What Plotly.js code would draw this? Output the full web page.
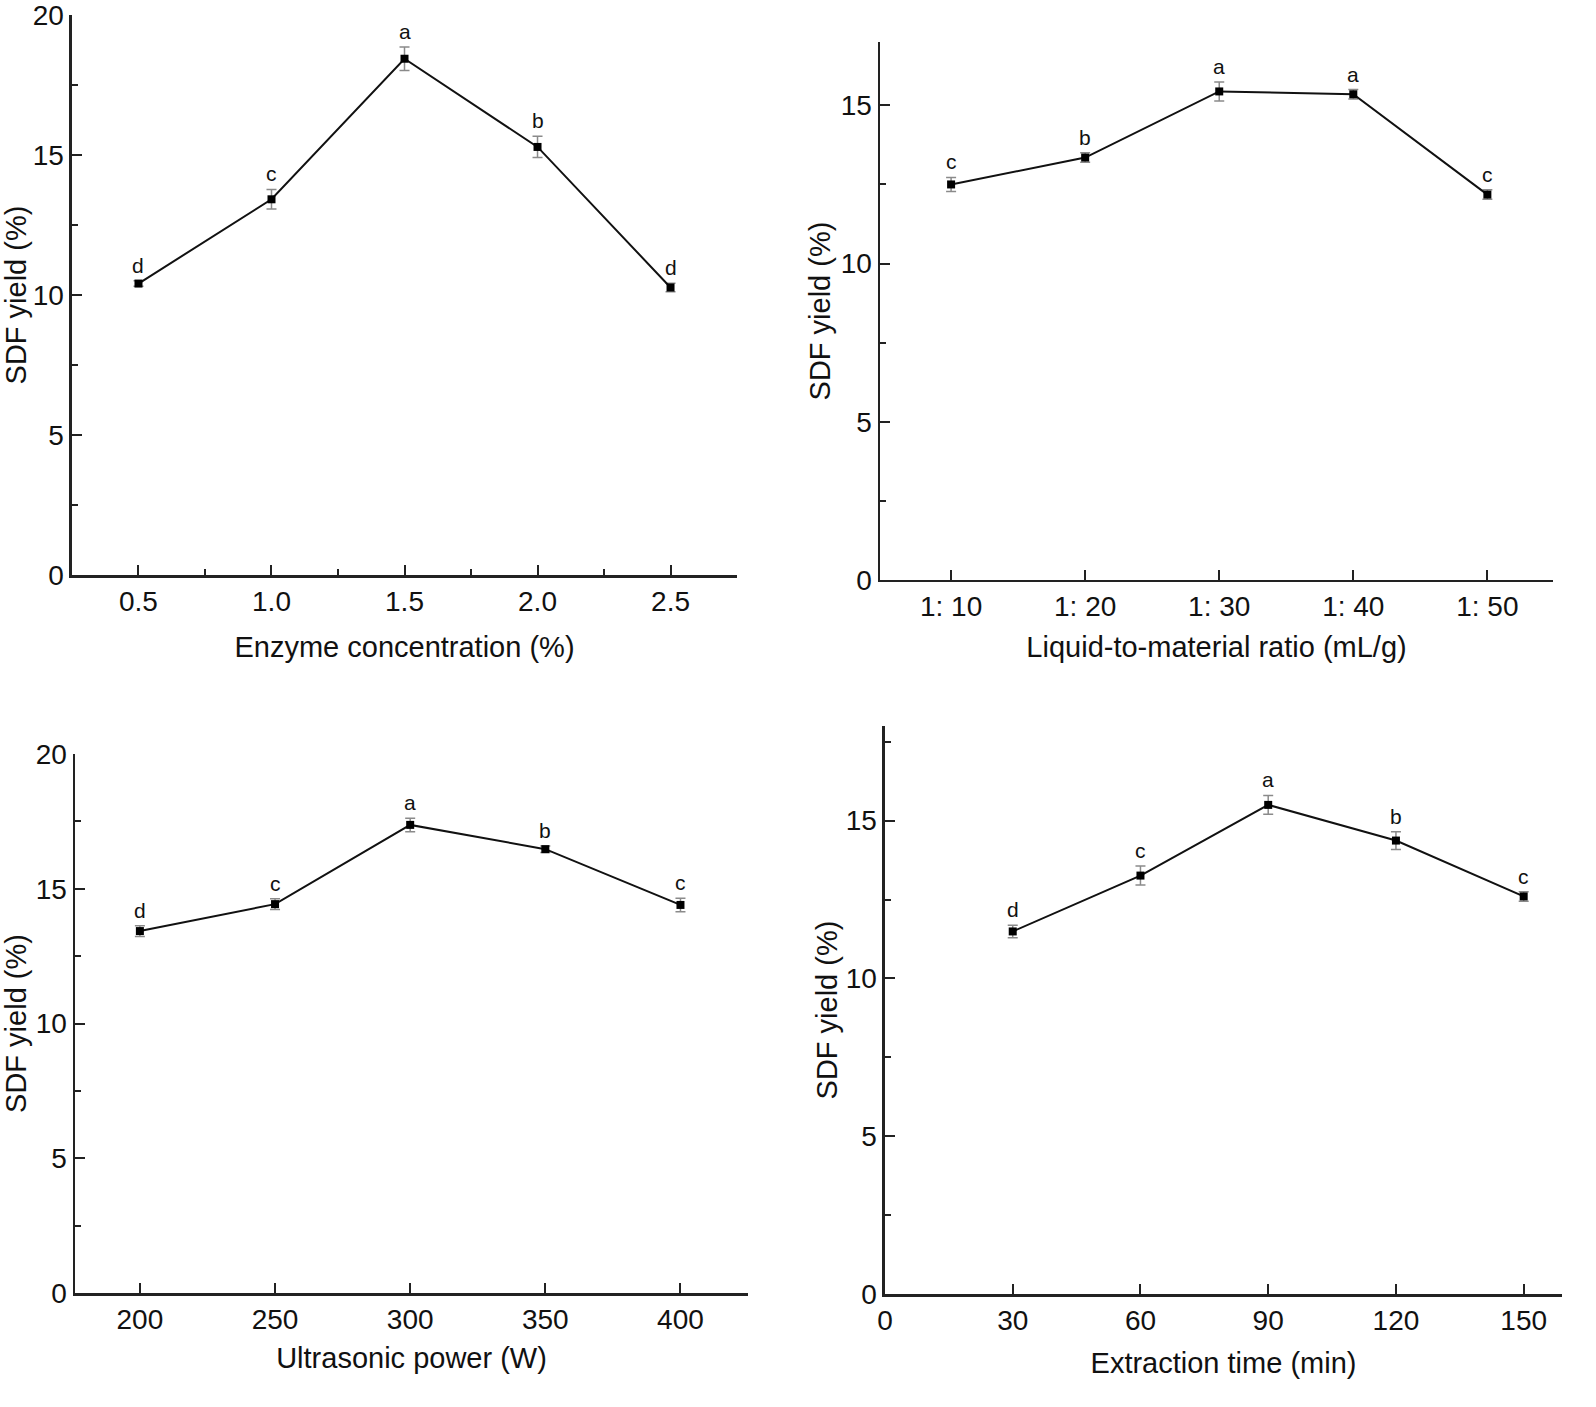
<!DOCTYPE html>
<html>
<head>
<meta charset="utf-8">
<script src="https://cdn.plot.ly/plotly-3.0.1.min.js"></script>
<style>
  html, body { margin: 0; padding: 0; background: #ffffff; }
  #chart { width: 1596px; height: 1407px; }
</style>
</head>
<body>
<div id="chart"></div>
<script>
// ---- Data ----
const enzymeConc = [0.5, 1.0, 1.5, 2.0, 2.5];
const enzymeYield = [10.41, 13.42, 18.44, 15.29, 10.27];
const enzymeErr = [0.1, 0.35, 0.42, 0.38, 0.15];
const enzymeLetters = ["d", "c", "a", "b", "d"];

const ratioCats = ["1: 10", "1: 20", "1: 30", "1: 40", "1: 50"];
const ratioYield = [12.5, 13.35, 15.44, 15.35, 12.18];
const ratioErr = [0.22, 0.15, 0.3, 0.15, 0.15];
const ratioLetters = ["c", "b", "a", "a", "c"];

const powerW = [200, 250, 300, 350, 400];
const powerYield = [13.43, 14.43, 17.37, 16.47, 14.4];
const powerErr = [0.2, 0.2, 0.25, 0.12, 0.25];
const powerLetters = ["d", "c", "a", "b", "c"];

const timeMin = [30, 60, 90, 120, 150];
const timeYield = [11.49, 13.26, 15.5, 14.37, 12.6];
const timeErr = [0.2, 0.3, 0.3, 0.28, 0.15];
const timeLetters = ["d", "c", "a", "b", "c"];

const yTitle = "SDF yield (%)";
const xTitles = ["Enzyme concentration (%)", "Liquid-to-material ratio (mL/g)", "Ultrasonic power (W)", "Extraction time (min)"];

// ---- Styling ----
const FONT = "Liberation Sans, Arial, Helvetica, sans-serif";
const AX = "#222222";

function series(x, y, err, xa, ya) {
  return {
    type: "scatter", mode: "lines+markers",
    x: x, y: y, xaxis: xa, yaxis: ya,
    line: { color: "#111111", width: 2 },
    marker: { symbol: "square", size: 8, color: "#000000" },
    error_y: { type: "data", array: err, visible: true, color: "#8a8a8a", thickness: 1.5, width: 5 },
    showlegend: false, hoverinfo: "x+y"
  };
}

const data = [
  series(enzymeConc, enzymeYield, enzymeErr, "x", "y"),
  series(ratioCats, ratioYield, ratioErr, "x2", "y2"),
  series(powerW, powerYield, powerErr, "x3", "y3"),
  series(timeMin, timeYield, timeErr, "x4", "y4")
];

function letterAnns(x, y, err, letters, xa, ya) {
  return x.map((xv, i) => ({
    x: xv, y: y[i] + err[i], xref: xa, yref: ya,
    text: letters[i], showarrow: false, yanchor: "bottom", yshift: 2,
    font: { family: FONT, size: 21, color: "#111111" }
  }));
}

const annotations = [].concat(
  letterAnns(enzymeConc, enzymeYield, enzymeErr, enzymeLetters, "x", "y"),
  letterAnns(ratioCats, ratioYield, ratioErr, ratioLetters, "x2", "y2"),
  letterAnns(powerW, powerYield, powerErr, powerLetters, "x3", "y3"),
  letterAnns(timeMin, timeYield, timeErr, timeLetters, "x4", "y4")
);

function xaxis(domain, anchor, title, standoff, extra) {
  return Object.assign({
    domain: domain, anchor: anchor,
    showline: true, linecolor: AX, linewidth: 2.5, mirror: false,
    showgrid: false, zeroline: false,
    ticks: "inside", ticklen: 10, tickwidth: 2, tickcolor: AX,
    tickfont: { family: FONT, size: 28, color: "#111111" },
    ticklabeloverflow: "allow",
    title: { text: title, font: { family: FONT, size: 29, color: "#111111" }, standoff: standoff },
    fixedrange: true
  }, extra);
}

function yaxis(domain, anchor, range, standoff, extra) {
  return Object.assign({
    domain: domain, anchor: anchor, range: range,
    showline: true, linecolor: AX, linewidth: 2.5,
    showgrid: false, zeroline: false,
    tickmode: "linear", tick0: 0, dtick: 5,
    ticks: "inside", ticklen: 10, tickwidth: 2, tickcolor: AX,
    minor: { dtick: 2.5, ticks: "inside", ticklen: 6, tickwidth: 2, tickcolor: AX, showgrid: false },
    tickfont: { family: FONT, size: 28, color: "#111111" },
    ticklabeloverflow: "allow",
    title: { text: yTitle, font: { family: FONT, size: 29, color: "#111111" }, standoff: standoff },
    fixedrange: true
  }, extra);
}

const layout = {
  width: 1596, height: 1407,
  margin: { l: 0, r: 0, t: 0, b: 0 },
  paper_bgcolor: "#ffffff", plot_bgcolor: "#ffffff",
  font: { family: FONT, color: "#111111" },
  showlegend: false,
  xaxis: xaxis([0.0451, 0.4618], "y", xTitles[0], 21, {
    range: [0.25, 2.75], tickmode: "linear", tick0: 0.5, dtick: 0.5, tickformat: ".1f",
    minor: { dtick: 0.25, ticks: "inside", ticklen: 6, tickwidth: 2, tickcolor: AX, showgrid: false }
  }),
  yaxis: yaxis([0.5913, 0.9893], "x", [0, 20], 14),
  xaxis2: xaxis([0.5514, 0.9731], "y2", xTitles[1], 16, {
    type: "category", range: [-0.53, 4.49]
  }),
  yaxis2: yaxis([0.5878, 0.9701], "x2", [0, 17], 2),
  xaxis3: xaxis([0.0470, 0.4687], "y3", xTitles[2], 14, {
    range: [176, 425], tickmode: "linear", tick0: 200, dtick: 50
  }),
  yaxis3: yaxis([0.0810, 0.4641], "x3", [0, 20], 14),
  xaxis4: xaxis([0.5545, 0.9787], "y4", xTitles[3], 18, {
    range: [0, 159], tickmode: "linear", tick0: 0, dtick: 30
  }),
  yaxis4: yaxis([0.0803, 0.4840], "x4", [0, 18], 0),
  annotations: annotations
};

Plotly.newPlot("chart", data, layout, { displayModeBar: false, staticPlot: true });
</script>
</body>
</html>
